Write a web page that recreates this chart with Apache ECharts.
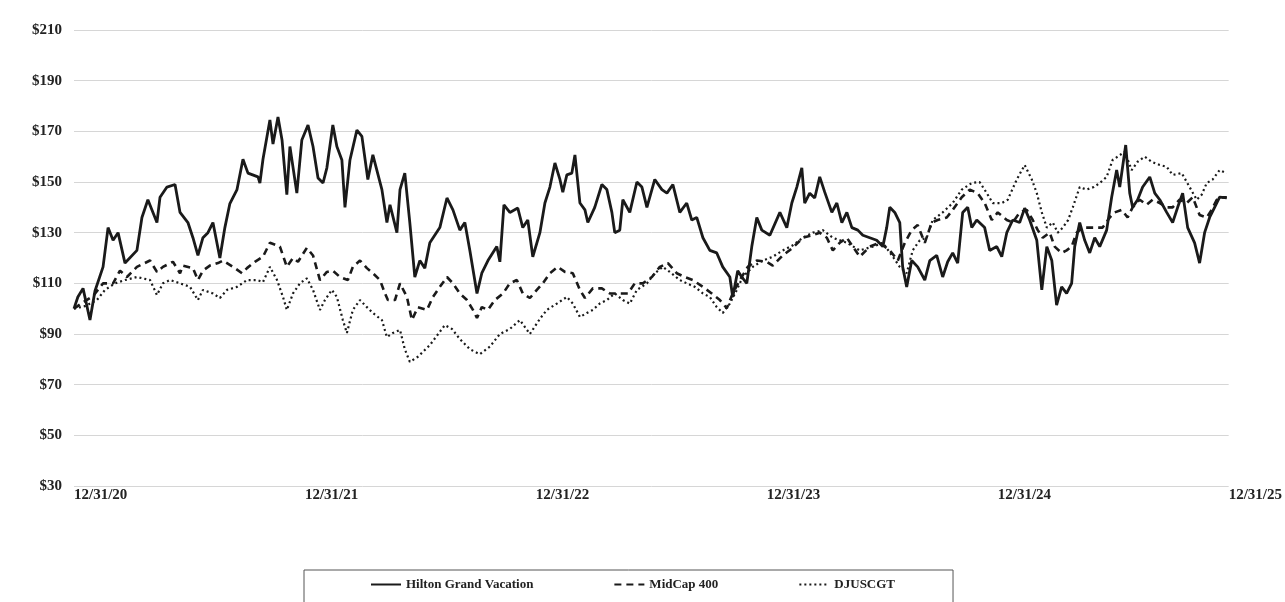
<!DOCTYPE html>
<html><head><meta charset="utf-8">
<script src="https://cdn.jsdelivr.net/npm/echarts@6/dist/echarts.min.js"></script>
<style>html,body{margin:0;padding:0;background:#fff}#c{width:1285px;height:602px}</style>
</head><body><div id="c"></div><script>
const tickLabels = ['12/31/20','12/31/21','12/31/22','12/31/23','12/31/24','12/31/25'];
const seriesNames = ['Hilton Grand Vacation','MidCap 400','DJUSCGT'];

// x = months since 12/31/20, y = value of $100 invested
const hgvMonths = [0,0.2,0.47,0.83,1.09,1.51,1.77,2.03,2.29,2.65,3.27,3.53,3.84,4.31,4.47,4.83,5.25,5.51,5.92,6.18,6.44,6.70,6.96,7.22,7.58,7.84,8.10,8.47,8.78,9.04,9.56,9.66,9.82,10.18,10.34,10.60,10.81,11.06,11.22,11.58,11.84,12.16,12.42,12.68,12.94,13.14,13.45,13.66,13.92,14.08,14.34,14.70,14.96,15.27,15.53,16.0,16.26,16.42,16.78,16.94,17.19,17.45,17.71,17.97,18.23,18.49,19.01,19.38,19.69,20.05,20.31,20.57,20.94,21.19,21.51,21.97,22.13,22.34,22.65,23.06,23.32,23.58,23.84,24.21,24.47,24.73,24.99,25.25,25.40,25.61,25.87,26.03,26.29,26.55,26.70,27.06,27.43,27.69,27.95,28.10,28.36,28.52,28.88,29.25,29.51,29.77,30.18,30.55,30.81,31.12,31.48,31.84,32.10,32.36,32.68,33.04,33.40,33.71,34.08,34.23,34.49,34.70,34.96,35.22,35.48,35.74,36.16,36.68,37.04,37.30,37.56,37.82,37.97,38.23,38.49,38.75,39.01,39.38,39.64,39.90,40.16,40.42,40.73,40.99,41.35,41.71,42.03,42.23,42.39,42.65,42.91,43.06,43.27,43.53,43.84,44.21,44.47,44.83,45.14,45.40,45.66,45.92,46.18,46.44,46.65,46.91,47.32,47.58,47.95,48.21,48.47,48.78,49.14,49.40,49.66,50.03,50.29,50.55,50.81,51.06,51.32,51.58,51.84,52.0,52.26,52.52,52.78,53.04,53.30,53.66,53.92,54.18,54.34,54.65,54.86,55.01,55.27,55.53,55.90,56.16,56.42,56.78,57.09,57.35,57.61,57.87,58.23,58.49,58.75,59.01,59.27,59.53,59.90];
const hgvValues = [100,104.6,108,95.5,107,116.5,132,127,130,118,123,136,143,134,144,148,149,138,134,128,121,128,130,134,120,132,141.5,147,159,153.5,152,149.6,159,174.5,165,175.7,166.6,145,164,145.6,166.6,172.5,164,151.6,149.6,155.6,172.5,164,158.7,140,158.7,170.5,168,151,160.7,147,134,141,130,147,153.5,134,112.5,119,116,126,132,143.7,139,131,134,123,106,114,119,124.5,118.5,141,138,139.7,132,135,120.5,130,141.7,148,157.5,151,146,152.8,153.5,160.7,141.7,139,134,140,149,147,138,130,131,143,138,150,148,140,151,147,145.6,149,138,141.7,135,136,128,123,122,116.5,112.5,104.6,115,112.5,110,124.5,136,131,129,138,132,141.7,148,155.6,141.7,145.6,143.7,152,146,138,141.7,134,138,132,131,129,128,127,124.5,132,140,138,134,116.5,108.6,119,116.5,111.3,119,121,112.5,118.5,122,118,138,140,132,135,132,123,124.5,120.5,130,135,134,139.7,135,127,107.4,124.5,119,101.4,108.6,106,110,124.5,134,127,122,128,124.5,131,144,154.7,148,164.6,145.6,140,143,148,152,145.6,143,138,134,140,145.6,132,126,118,130,136,140,144,143.7];

const midMonths = [0,0.57,0.99,1.51,2.03,2.39,2.75,3.27,3.95,4.31,4.62,5.14,5.51,5.66,6.18,6.44,6.70,7.06,7.48,7.74,8.26,8.73,8.99,9.40,9.82,10.18,10.70,11.06,11.38,11.64,12.10,12.42,12.78,13.14,13.45,13.82,14.23,14.49,14.86,15.22,15.53,15.90,16.16,16.31,16.68,16.94,17.30,17.56,17.87,18.34,18.65,19.01,19.38,19.69,20.05,20.42,20.73,20.94,21.19,21.51,21.87,22.29,22.65,23.01,23.32,23.69,24.05,24.36,24.73,25.14,25.51,25.92,26.29,26.55,26.96,27.43,27.84,28.36,28.78,29.14,29.56,30.03,30.44,30.86,31.32,31.74,32.16,32.68,33.14,33.56,33.92,34.23,34.60,35.01,35.48,36.0,36.31,36.83,37.35,37.87,38.39,38.75,39.12,39.43,39.79,40.16,40.47,40.83,41.35,41.87,42.39,42.81,43.17,43.53,43.84,44.21,44.57,44.88,45.35,45.66,46.13,46.55,46.96,47.32,47.69,48.0,48.47,48.78,49.14,49.51,49.82,50.08,50.34,50.70,50.96,51.32,51.58,51.84,52.10,52.42,52.78,53.14,53.45,53.82,54.08,54.44,54.75,55.01,55.38,55.74,56.05,56.42,56.78,57.09,57.45,57.82,58.13,58.49,58.86,59.12,59.38,59.69,59.90];
const midValues = [100,103,105,110,110,115,112.5,116.5,119,114.5,116.5,118.5,114,117,116,111.3,115,117,118,119,116.5,114,116,118.5,120.5,126,124.5,116.5,120,118.5,124,121,111.3,114.5,115,112.5,111.3,116.5,119,116,114,111.3,106,103.4,103.4,110,104.6,95.5,100.6,99.5,104.6,108.6,112.5,110,106,103.4,99.5,96.3,100.6,99.5,103.4,106,110,111.3,106,104.2,107.4,110,114,116.5,114.5,114,107.4,104.2,108,108,106,106,106,110,110,112.5,116.5,118,114,112.5,111.3,108.6,106,103.4,100.2,106,111.3,116.5,119,118.5,117,121,124,128,129,130,128,123,126,128,124.5,120.5,124.5,126,123,119,126,131,133,126,134,135,136,139,144,147,145.6,141.7,135,138,135,134,138,139,135,131,128,130,124.5,122,123,124.5,130,132,132,132,132,136,138,139,136,140,143,141,143,141.7,140,140,143,141.7,144,137,136,139,143,144,144];

const djMonths = [0,0.57,1.19,1.61,2.13,2.65,3.27,3.95,4.31,4.62,4.99,5.51,6.03,6.44,6.70,7.22,7.58,7.95,8.47,8.99,9.51,9.82,10.18,10.55,10.86,11.06,11.38,11.74,12.10,12.42,12.78,13.04,13.40,13.66,13.97,14.18,14.49,14.86,15.22,15.53,16.0,16.26,16.57,16.94,17.19,17.45,17.87,18.49,19.27,19.64,20.05,20.57,21.09,21.61,22.13,22.65,23.17,23.69,24.21,24.57,25.09,25.61,25.92,26.29,26.65,26.96,27.32,27.69,28.10,28.52,28.88,29.25,29.77,30.18,30.60,30.96,31.48,31.84,32.26,32.68,33.04,33.40,33.71,34.08,34.44,34.75,35.27,35.79,36.31,36.83,37.35,37.87,38.39,38.91,39.43,40.16,40.83,41.51,42.03,42.55,42.91,43.27,43.58,43.95,44.31,44.62,45.14,45.66,46.13,46.65,47.06,47.43,47.74,48.21,48.52,48.99,49.40,49.77,50.03,50.29,50.55,50.86,51.12,51.38,51.66,51.90,52.26,52.62,52.99,53.30,53.66,53.97,54.23,54.60,54.96,55.27,55.64,56.0,56.42,56.78,57.09,57.56,57.97,58.34,58.60,58.86,59.17,59.53,59.90];
const djValues = [100,101,103.4,107.4,110,111.3,112.5,111.3,105.4,110,111.3,110,108.6,103.4,107.4,106,104.2,107.4,108.6,111.3,111.3,110.5,116.5,111.3,104.6,99.5,106,110,112,107.4,99.5,103.4,107.4,104.6,95.5,90.4,99.5,103.4,100.6,98.3,95.5,88.8,90.4,91.6,84,79,81,85.6,93.5,92,88,84,82,85,90,92,95.5,90,96,99.5,102,104.6,102,96.7,98.3,99.5,102,103.4,106,103.4,102,107.4,110,114,116.5,114.5,111.3,110,108.6,106,104.6,100.6,98.3,102,107.4,112.5,116.5,119,120.5,123,125,128,130,131,128,126,123,124.5,126,120.5,116.5,114,123,127,128,135,138,141.7,147,149.6,150,145.6,141.7,141.7,143,151,156.7,151,145.6,138,132,134,130,132,135,140,148,147,148,149.6,152,158.7,160,162,154.7,158,160,158,156.7,156,152.8,153.5,148,143,145,149.6,151,154.7,153.5];

const pair = (xs, ys) => xs.map((x, i) => [x, ys[i]]);
const serif = '"Liberation Serif", "DejaVu Serif", serif';
const ink = '#1a1a1a';

const chart = echarts.init(document.getElementById('c'), null, {renderer: 'canvas'});
chart.setOption({
  animation: false,
  backgroundColor: '#ffffff',
  grid: {left: 74, right: 56, top: 30, bottom: 116},
  xAxis: {
    type: 'value', min: 0, max: 60, interval: 12,
    axisLine: {show: false}, axisTick: {show: false}, splitLine: {show: false},
    axisLabel: {
      formatter: v => tickLabels[Math.round(v / 12)],
      align: 'left', margin: 2, showMaxLabel: true, showMinLabel: true,
      fontFamily: serif, fontWeight: 'bold', fontSize: 15, color: '#222'
    }
  },
  yAxis: {
    type: 'value', min: 30, max: 210, interval: 20,
    axisLine: {show: false}, axisTick: {show: false},
    splitLine: {lineStyle: {color: '#d6d6d6', width: 1}},
    axisLabel: {
      formatter: v => '$' + v, margin: 12,
      fontFamily: serif, fontWeight: 'bold', fontSize: 15, color: '#222'
    }
  },
  legend: {
    data: seriesNames,
    left: 304, top: 570,
    padding: [8, 58, 20, 66],
    itemGap: 80, itemWidth: 30, itemHeight: 14,
    itemStyle: {opacity: 0},
    borderColor: '#555', borderWidth: 1,
    textStyle: {fontFamily: serif, fontWeight: 'bold', fontSize: 13, color: '#222'}
  },
  series: [
    {name: seriesNames[2], type: 'line', data: pair(djMonths, djValues), showSymbol: false, symbol: 'none',
     lineStyle: {color: ink, width: 2.2, type: [2, 3]}, itemStyle: {color: ink}, z: 2},
    {name: seriesNames[1], type: 'line', data: pair(midMonths, midValues), showSymbol: false, symbol: 'none',
     lineStyle: {color: ink, width: 2.6, type: [7, 5]}, itemStyle: {color: ink}, z: 3},
    {name: seriesNames[0], type: 'line', data: pair(hgvMonths, hgvValues), showSymbol: false, symbol: 'none',
     lineStyle: {color: ink, width: 2.8}, itemStyle: {color: ink}, z: 4}
  ]
});
</script></body></html>
